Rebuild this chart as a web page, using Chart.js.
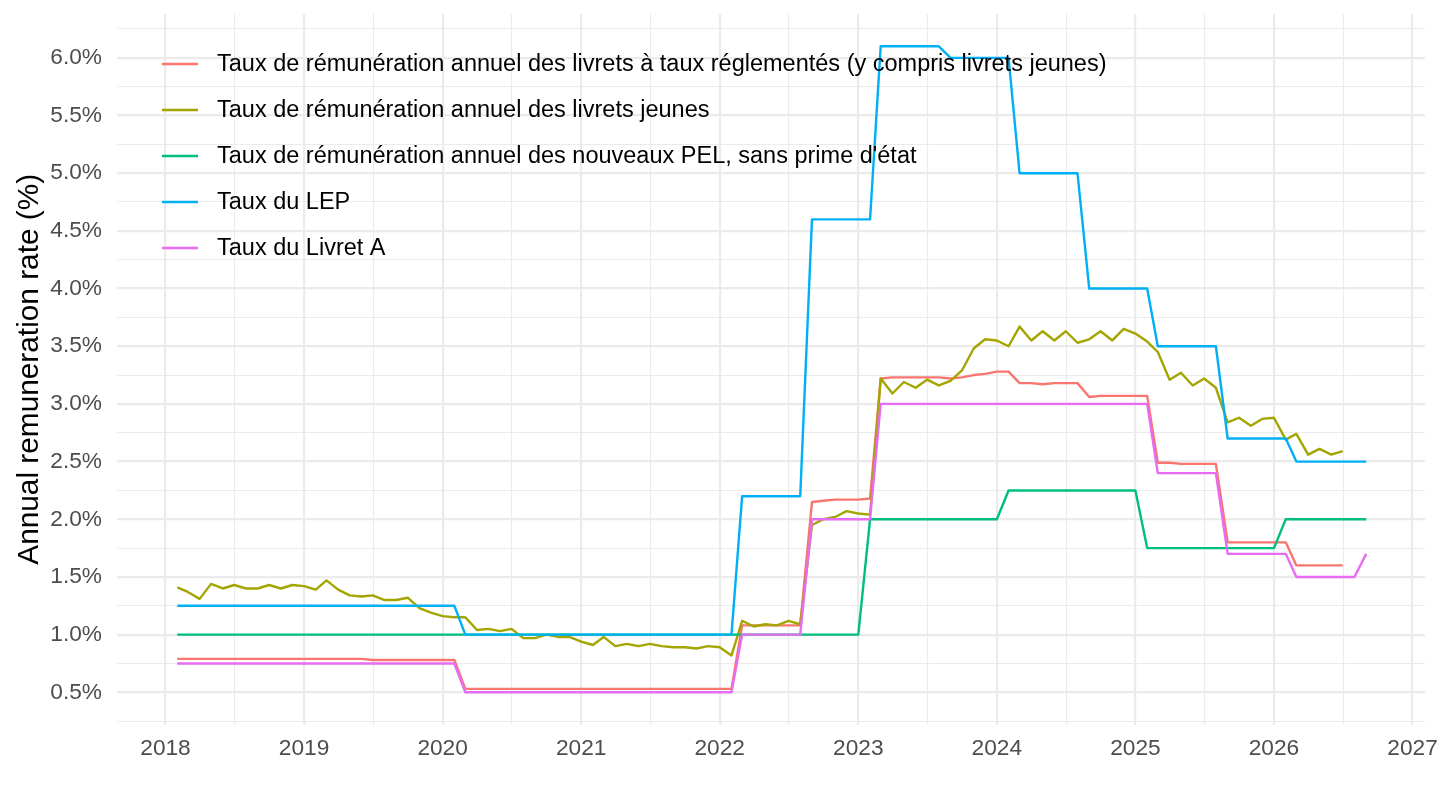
<!DOCTYPE html>
<html lang="fr">
<head>
<meta charset="utf-8">
<title>Taux de rémunération des livrets</title>
<script src="https://cdn.jsdelivr.net/npm/chart.js@4.4.1/dist/chart.umd.min.js"></script>
<style>
  html, body { margin: 0; padding: 0; background: #fff; }
  #wrap { width: 1440px; height: 810px; }
</style>
</head>
<body>
<div id="wrap"><canvas id="tauxChart"></canvas></div>
<script>
// Mois (1er du mois)
const months = [
  "2018-02","2018-03","2018-04","2018-05","2018-06","2018-07","2018-08","2018-09","2018-10","2018-11","2018-12",
  "2019-01","2019-02","2019-03","2019-04","2019-05","2019-06","2019-07","2019-08","2019-09","2019-10","2019-11","2019-12",
  "2020-01","2020-02","2020-03","2020-04","2020-05","2020-06","2020-07","2020-08","2020-09","2020-10","2020-11","2020-12",
  "2021-01","2021-02","2021-03","2021-04","2021-05","2021-06","2021-07","2021-08","2021-09","2021-10","2021-11","2021-12",
  "2022-01","2022-02","2022-03","2022-04","2022-05","2022-06","2022-07","2022-08","2022-09","2022-10","2022-11","2022-12",
  "2023-01","2023-02","2023-03","2023-04","2023-05","2023-06","2023-07","2023-08","2023-09","2023-10","2023-11","2023-12",
  "2024-01","2024-02","2024-03","2024-04","2024-05","2024-06","2024-07","2024-08","2024-09","2024-10","2024-11","2024-12",
  "2025-01","2025-02","2025-03","2025-04","2025-05","2025-06","2025-07","2025-08","2025-09","2025-10","2025-11","2025-12",
  "2026-01","2026-02","2026-03","2026-04","2026-05","2026-06","2026-07","2026-08","2026-09"
];

// Taux de rémunération annuel des livrets à taux réglementés (y compris livrets jeunes)
const tauxReglementes = [
  0.79,0.79,0.79,0.79,0.79,0.79,0.79,0.79,0.79,0.79,0.79,
  0.79,0.79,0.79,0.79,0.79,0.79,0.78,0.78,0.78,0.78,0.78,0.78,
  0.78,0.78,0.53,0.53,0.53,0.53,0.53,0.53,0.53,0.53,0.53,0.53,
  0.53,0.53,0.53,0.53,0.53,0.53,0.53,0.53,0.53,0.53,0.53,0.53,
  0.53,0.53,1.08,1.08,1.08,1.08,1.08,1.08,2.15,2.16,2.17,2.17,
  2.17,2.18,3.22,3.23,3.23,3.23,3.23,3.23,3.22,3.23,3.25,3.26,
  3.28,3.28,3.18,3.18,3.17,3.18,3.18,3.18,3.06,3.07,3.07,3.07,
  3.07,3.07,2.49,2.49,2.48,2.48,2.48,2.48,1.80,1.80,1.80,1.80,
  1.80,1.80,1.60,1.60,1.60,1.60,1.60,null,null
];

// Taux de rémunération annuel des livrets jeunes
const tauxJeunes = [
  1.41,1.37,1.31,1.44,1.40,1.43,1.40,1.40,1.43,1.40,1.43,
  1.42,1.39,1.47,1.39,1.34,1.33,1.34,1.30,1.30,1.32,1.23,1.19,
  1.16,1.15,1.15,1.04,1.05,1.03,1.05,0.97,0.97,1.00,0.98,0.98,
  0.94,0.91,0.98,0.90,0.92,0.90,0.92,0.90,0.89,0.89,0.88,0.90,
  0.89,0.82,1.12,1.07,1.09,1.08,1.12,1.09,1.95,2.00,2.02,2.07,
  2.05,2.04,3.22,3.09,3.19,3.14,3.21,3.16,3.20,3.29,3.48,3.56,
  3.55,3.50,3.67,3.55,3.63,3.55,3.63,3.53,3.56,3.63,3.55,3.65,
  3.61,3.54,3.45,3.21,3.27,3.16,3.22,3.14,2.84,2.88,2.81,2.87,
  2.88,2.69,2.74,2.56,2.61,2.56,2.59,null,null
];

// Taux de rémunération annuel des nouveaux PEL, sans prime d'état
const tauxPEL = [
  1,1,1,1,1,1,1,1,1,1,1,
  1,1,1,1,1,1,1,1,1,1,1,1,
  1,1,1,1,1,1,1,1,1,1,1,1,
  1,1,1,1,1,1,1,1,1,1,1,1,
  1,1,1,1,1,1,1,1,1,1,1,1,
  1,2,2,2,2,2,2,2,2,2,2,2,
  2,2.25,2.25,2.25,2.25,2.25,2.25,2.25,2.25,2.25,2.25,2.25,
  2.25,1.75,1.75,1.75,1.75,1.75,1.75,1.75,1.75,1.75,1.75,1.75,
  1.75,2,2,2,2,2,2,2,2
];

// Taux du LEP
const tauxLEP = [
  1.25,1.25,1.25,1.25,1.25,1.25,1.25,1.25,1.25,1.25,1.25,
  1.25,1.25,1.25,1.25,1.25,1.25,1.25,1.25,1.25,1.25,1.25,1.25,
  1.25,1.25,1,1,1,1,1,1,1,1,1,1,
  1,1,1,1,1,1,1,1,1,1,1,1,
  1,1,2.2,2.2,2.2,2.2,2.2,2.2,4.6,4.6,4.6,4.6,
  4.6,4.6,6.1,6.1,6.1,6.1,6.1,6.1,6.0,6.0,6.0,6.0,
  6.0,6.0,5.0,5.0,5.0,5.0,5.0,5.0,4.0,4.0,4.0,4.0,
  4.0,4.0,3.5,3.5,3.5,3.5,3.5,3.5,2.7,2.7,2.7,2.7,
  2.7,2.7,2.5,2.5,2.5,2.5,2.5,2.5,2.5
];

// Taux du Livret A
const tauxLivretA = [
  0.75,0.75,0.75,0.75,0.75,0.75,0.75,0.75,0.75,0.75,0.75,
  0.75,0.75,0.75,0.75,0.75,0.75,0.75,0.75,0.75,0.75,0.75,0.75,
  0.75,0.75,0.5,0.5,0.5,0.5,0.5,0.5,0.5,0.5,0.5,0.5,
  0.5,0.5,0.5,0.5,0.5,0.5,0.5,0.5,0.5,0.5,0.5,0.5,
  0.5,0.5,1,1,1,1,1,1,2,2,2,2,
  2,2,3,3,3,3,3,3,3,3,3,3,
  3,3,3,3,3,3,3,3,3,3,3,3,
  3,3,2.4,2.4,2.4,2.4,2.4,2.4,1.7,1.7,1.7,1.7,
  1.7,1.7,1.5,1.5,1.5,1.5,1.5,1.5,1.7
];

const seriesLabels = [
  "Taux de rémunération annuel des livrets à taux réglementés (y compris livrets jeunes)",
  "Taux de rémunération annuel des livrets jeunes",
  "Taux de rémunération annuel des nouveaux PEL, sans prime d'état",
  "Taux du LEP",
  "Taux du Livret A"
];
const seriesColors = ["#F8766D", "#A3A500", "#00BF7D", "#00B0F6", "#E76BF3"];

// Graduations
const xMajorTicks = [2018, 2019, 2020, 2021, 2022, 2023, 2024, 2025, 2026, 2027];
const yMajorTicks = [0.5, 1.0, 1.5, 2.0, 2.5, 3.0, 3.5, 4.0, 4.5, 5.0, 5.5, 6.0];

// "2018-02" -> année décimale (comme un axe de dates)
function toYear(m) {
  const [y, mo] = m.split("-").map(Number);
  const start = Date.UTC(y, 0, 1);
  const end = Date.UTC(y + 1, 0, 1);
  return y + (Date.UTC(y, mo - 1, 1) - start) / (end - start);
}

function toPoints(values) {
  return months.map((m, i) => ({ x: toYear(m), y: values[i] }));
}

// majeures + mineures (milieux) dans les bornes de l'échelle
function buildTicks(scale, majors) {
  const step = majors[1] - majors[0];
  const vals = [];
  majors.forEach((v) => vals.push(v));
  vals.push(majors[0] - step / 2);
  majors.forEach((v) => vals.push(v + step / 2));
  scale.ticks = vals
    .filter((v) => v >= scale.min && v <= scale.max)
    .sort((a, b) => a - b)
    .map((v) => ({ value: v, major: majors.includes(v) }));
}

// pas de marge en plus pour les étiquettes qui débordent
function fixSize(scale, prop, size) {
  scale[prop] = size;
  scale.paddingTop = 0;
  scale.paddingBottom = 0;
  scale.paddingLeft = 0;
  scale.paddingRight = 0;
}

const allSeries = [tauxReglementes, tauxJeunes, tauxPEL, tauxLEP, tauxLivretA];

const datasets = allSeries.map((vals, i) => ({
  label: seriesLabels[i],
  data: toPoints(vals),
  borderColor: seriesColors[i],
  backgroundColor: seriesColors[i],
  borderWidth: 2.4,
  borderJoinStyle: "round",
  pointRadius: 0,
  tension: 0,
  spanGaps: false,
  order: allSeries.length - i, // le dernier dessiné au-dessus
}));

const FONT = '"Liberation Sans", Arial, sans-serif';

// Légende dans le panneau, en haut à gauche
const legendInterne = {
  id: "legendInterne",
  afterDraw(chart) {
    const ctx = chart.ctx;
    ctx.save();
    chart.data.datasets.forEach((ds, i) => {
      const y = 64 + i * 46;
      ctx.strokeStyle = ds.borderColor;
      ctx.lineWidth = 2.4;
      ctx.beginPath();
      ctx.moveTo(162, y);
      ctx.lineTo(198, y);
      ctx.stroke();
      ctx.fillStyle = "#000";
      ctx.font = "23.5px " + FONT;
      ctx.textBaseline = "middle";
      ctx.textAlign = "left";
      ctx.fillText(ds.label, 217, y + 1);
    });
    ctx.restore();
  },
};

const ctx = document.getElementById("tauxChart").getContext("2d");
new Chart(ctx, {
  type: "line",
  data: { datasets: datasets },
  options: {
    responsive: true,
    maintainAspectRatio: false,
    animation: false,
    layout: { padding: { top: 14, right: 15, left: 0, bottom: 0 } },
    plugins: {
      legend: { display: false },
      tooltip: { enabled: false },
    },
    scales: {
      x: {
        type: "linear",
        min: 2017.65,
        max: 2027.09,
        afterBuildTicks: (scale) => buildTicks(scale, xMajorTicks),
        afterFit: (scale) => fixSize(scale, "height", 85.4),
        border: { display: false },
        grid: {
          color: "#EBEBEB",
          lineWidth: (c) => (c.tick && c.tick.major ? 2.2 : 1.1),
          drawTicks: false,
        },
        ticks: {
          autoSkip: false,
          maxRotation: 0,
          padding: 11,
          color: "#4D4D4D",
          font: { family: FONT, size: 22.7 },
          callback: (v) => (xMajorTicks.includes(v) ? String(v) : ""),
        },
      },
      y: {
        type: "linear",
        min: 0.22,
        max: 6.38,
        afterBuildTicks: (scale) => buildTicks(scale, yMajorTicks),
        afterFit: (scale) => fixSize(scale, "width", 117),
        border: { display: false },
        grid: {
          color: "#EBEBEB",
          lineWidth: (c) => (c.tick && c.tick.major ? 2.2 : 1.1),
          drawTicks: false,
        },
        title: {
          display: true,
          text: "Annual remuneration rate (%)",
          color: "#000",
          font: { family: FONT, size: 29.8 },
          padding: { top: 12, bottom: 0 },
        },
        ticks: {
          autoSkip: false,
          padding: 15,
          color: "#4D4D4D",
          font: { family: FONT, size: 22.7 },
          callback: (v) => (yMajorTicks.includes(v) ? v.toFixed(1) + "%" : ""),
        },
      },
    },
  },
  plugins: [legendInterne],
});
</script>
</body>
</html>
